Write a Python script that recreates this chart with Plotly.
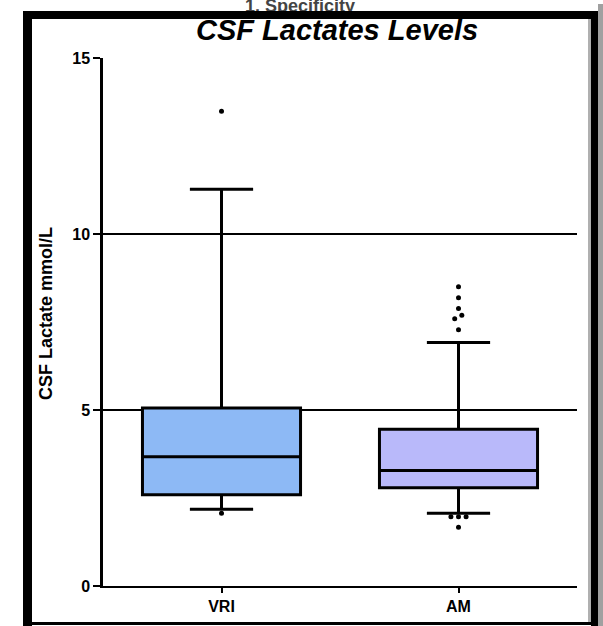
import plotly.graph_objects as go

# ---------------- data ----------------
categories = ["VRI", "AM"]
q1 = [2.59, 2.79]
medians = [3.67, 3.28]
q3 = [5.06, 4.45]
lower_whisker = [2.18, 2.07]
upper_whisker = [11.27, 6.92]

vri_outliers = [13.49, 2.07]
am_outliers = [8.50, 8.19, 7.88, 7.69, 7.59, 7.28, 1.97, 1.97, 1.97, 1.67]
# small horizontal spread of overlapping dots (category units)
vri_spread = [0.0, 0.0]
am_spread = [0.0, 0.0, 0.0, 0.014, -0.016, 0.0, -0.032, 0.0, 0.032, 0.0]

y_ticks = [0, 5, 10, 15]
fill_colors = ["#8DB9F5", "#B9B9FA"]

# ---------------- geometry helpers (page pixels -> paper) ----------------
W, H = 603, 626
ML, MR, MT, MB = 103, 26, 0, 40
PLOT_W = W - ML - MR
PAPER_H = H - MT - MB


def px_x(p):
    return (p - ML) / PLOT_W


def px_y(p):
    return (PAPER_H - p) / PAPER_H


fig = go.Figure()

for i, cat in enumerate(categories):
    fig.add_trace(go.Box(
        x=[i], q1=[q1[i]], median=[medians[i]], q3=[q3[i]],
        lowerfence=[lower_whisker[i]], upperfence=[upper_whisker[i]],
        width=0.667, whiskerwidth=0.4, boxpoints=False,
        fillcolor=fill_colors[i], line=dict(color="black", width=3),
        name=cat, hoverinfo="skip",
    ))

fig.add_trace(go.Scatter(
    x=[0 + d for d in vri_spread], y=vri_outliers, mode="markers",
    marker=dict(color="black", size=5), hoverinfo="skip", cliponaxis=False,
))
fig.add_trace(go.Scatter(
    x=[1 + d for d in am_spread], y=am_outliers, mode="markers",
    marker=dict(color="black", size=5), hoverinfo="skip", cliponaxis=False,
))

# cut-off caption at the very top of the page (clipped by a tiny subplot)
fig.add_trace(go.Scatter(
    x=[300], y=[7], mode="text", text=["1. Specificity"],
    textfont=dict(family="Liberation Sans, Arial", size=18, color="#444444", weight="bold"),
    xaxis="x2", yaxis="y2", hoverinfo="skip", cliponaxis=True,
))

fig.update_layout(
    width=W, height=H,
    margin=dict(l=ML, r=MR, t=MT, b=MB, autoexpand=False),
    paper_bgcolor="white", plot_bgcolor="white",
    showlegend=False, hovermode=False,
    xaxis=dict(
        range=[-0.5, 1.5], tickvals=[0, 1], ticktext=categories,
        showgrid=False, zeroline=False,
        showline=True, linecolor="black", linewidth=2,
        ticks="outside", ticklen=5, tickwidth=2, tickcolor="black",
        tickfont=dict(family="Liberation Sans, Arial", size=16, color="black", weight="bold"),
        domain=[0, 1], automargin=False,
    ),
    yaxis=dict(
        range=[0, 15], tickvals=y_ticks,
        showgrid=True, gridcolor="black", gridwidth=1.5,
        zeroline=False,
        showline=True, linecolor="black", linewidth=2.5,
        ticks="outside", ticklen=7, tickwidth=2, tickcolor="black",
        tickfont=dict(family="Liberation Sans, Arial", size=16, color="black", weight="bold"),
        domain=[0, px_y(58)], automargin=False,
    ),
    xaxis2=dict(range=[ML, W - MR], domain=[0, 1], visible=False, anchor="y2"),
    yaxis2=dict(range=[12, 0], domain=[px_y(12), 1], visible=False, anchor="x2"),
)

# title and axis title
fig.add_annotation(
    x=px_x(337), y=px_y(30), xref="paper", yref="paper",
    text="<b><i>CSF Lactates Levels</i></b>", showarrow=False,
    font=dict(family="Liberation Sans, Arial", size=29, color="black"),
    xanchor="center", yanchor="middle",
)
fig.add_annotation(
    x=px_x(46), y=px_y(314), xref="paper", yref="paper",
    text="<b>CSF Lactate mmol/L</b>", showarrow=False, textangle=-90,
    font=dict(family="Liberation Sans Narrow, Arial Narrow, Liberation Sans", size=18, color="black"),
    xanchor="center", yanchor="middle",
)

# picture frame with shadow
def rect(x0, y0, x1, y1, color):
    fig.add_shape(type="rect", xref="paper", yref="paper",
                  x0=px_x(x0), x1=px_x(x1), y0=px_y(y0), y1=px_y(y1),
                  fillcolor=color, line=dict(width=0), layer="above")

rect(588, 12, 592, 624, "#b0b0b0")      # inner shadow right
rect(598, 4, 603, 626, "#a0a0a0")       # outer shadow right
rect(23, 11, 598, 19, "black")          # top
rect(23, 11, 32, 626, "black")          # left
rect(591, 11, 598, 626, "black")        # right
rect(23, 622, 598, 625, "black")        # bottom

fig.write_html("out.html")
